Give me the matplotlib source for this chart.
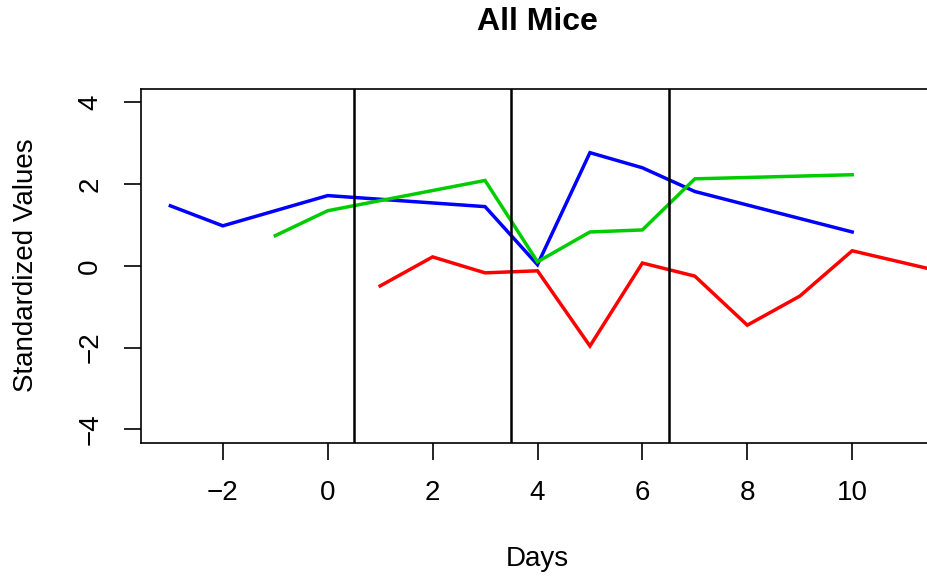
import matplotlib
matplotlib.use("Agg")
import matplotlib.pyplot as plt

plt.rcParams['font.family'] = ['Liberation Sans', 'DejaVu Sans']

# Standardized values per mouse group by day
blue_days = [-3, -2, 0, 3, 4, 5, 6, 7, 10]
blue_vals = [1.47, 0.98, 1.72, 1.45, 0.03, 2.77, 2.40, 1.82, 0.83]

green_days = [-1, 0, 3, 4, 5, 6, 7, 10]
green_vals = [0.74, 1.35, 2.09, 0.10, 0.83, 0.88, 2.13, 2.23]

red_days = [1, 2, 3, 4, 5, 6, 7, 8, 9, 10, 12]
red_vals = [-0.49, 0.22, -0.17, -0.12, -1.96, 0.07, -0.25, -1.45, -0.74, 0.37, -0.23]

phase_breaks = [0.5, 3.5, 6.5]
x_ticks = [-2, 0, 2, 4, 6, 8, 10]
y_ticks = [-4, -2, 0, 2, 4]

W, H = 927, 577
fig = plt.figure(figsize=(W / 100, H / 100), dpi=100)
left, right, top, bottom = 141, 934, 89.3, 442.5
ax = fig.add_axes([left / W, (H - bottom) / H, (right - left) / W, (bottom - top) / H])

lw = 2.5
ax.plot(blue_days, blue_vals, color='#0000FF', lw=lw, solid_joinstyle='miter')
ax.plot(green_days, green_vals, color='#00CD00', lw=lw, solid_joinstyle='miter')
ax.plot(red_days, red_vals, color='#FF0000', lw=lw, solid_joinstyle='miter')

for b in phase_breaks:
    ax.axvline(b, color='black', lw=1.8)

ax.set_xlim(-3.56, 11.56)
ax.set_ylim(-4.32, 4.32)
ax.set_xticks(x_ticks)
ax.set_xticklabels([str(t).replace('-', '\u2212') for t in x_ticks])
ax.set_yticks(y_ticks)
ax.set_yticklabels([str(t).replace('-', '\u2212') for t in y_ticks], rotation=90, va='center')

for s in ax.spines.values():
    s.set_linewidth(1.2)
ax.tick_params(axis='both', length=12.2, width=1.2, labelsize=20, color='black')
ax.tick_params(axis='x', pad=15)
ax.tick_params(axis='y', pad=15)

fig.text((left + right) / 2 / W, 1 - 22 / H, 'All Mice', ha='center', va='center',
         fontsize=23, fontweight='bold')
fig.text((left + right) / 2 / W, 1 - 559 / H, 'Days', ha='center', va='center', fontsize=20)
fig.text(26 / W, 1 - 265.5 / H, 'Standardized Values', ha='center', va='center',
         rotation=90, fontsize=20)

fig.savefig('out.png', dpi=100)
